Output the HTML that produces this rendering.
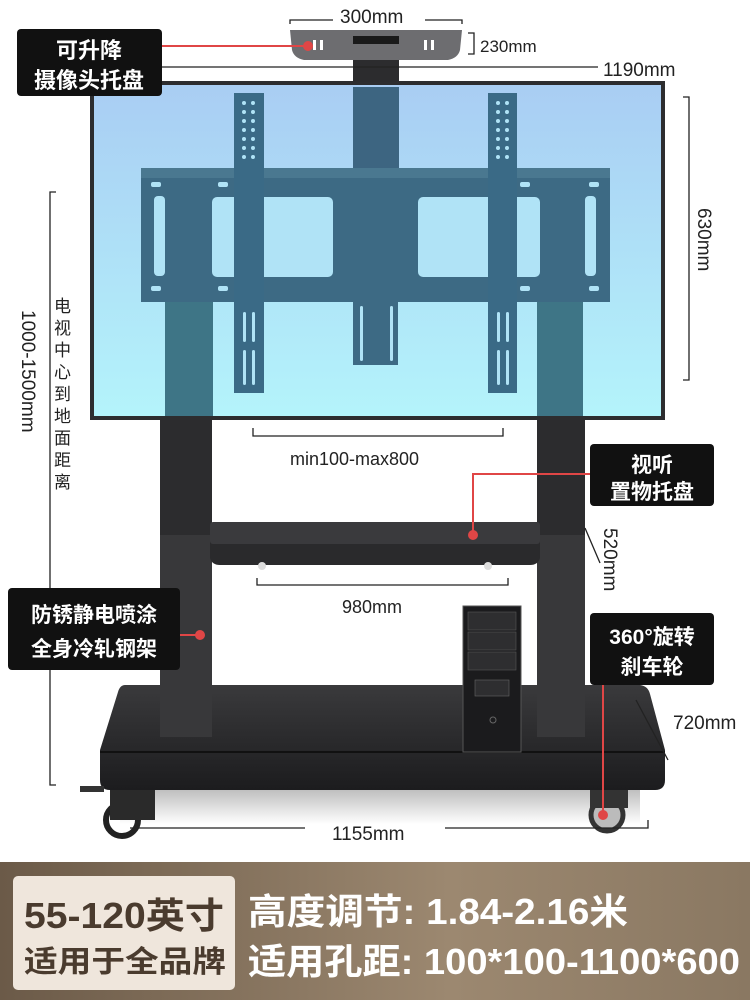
<!DOCTYPE html>
<html><head><meta charset="utf-8"><style>
html,body{margin:0;padding:0;background:#fff}
svg{display:block}
text{font-family:"Liberation Sans","Noto Sans CJK SC",sans-serif}
</style></head><body>
<svg width="750" height="1000" viewBox="0 0 750 1000" xmlns="http://www.w3.org/2000/svg">
<defs>
<linearGradient id="scr" x1="0" y1="0" x2="0" y2="1"><stop offset="0" stop-color="#a9cdf3"/><stop offset="1" stop-color="#b4f4fb"/></linearGradient>
<linearGradient id="ban" x1="0" y1="0" x2="1" y2="0"><stop offset="0" stop-color="#6b5a48"/><stop offset="0.6" stop-color="#9c8870"/><stop offset="1" stop-color="#8a7862"/></linearGradient>
<linearGradient id="base" x1="0" y1="0" x2="0" y2="1"><stop offset="0" stop-color="#3a3a3c"/><stop offset="1" stop-color="#1c1c1e"/></linearGradient>
<linearGradient id="shd" x1="0" y1="0" x2="0" y2="1"><stop offset="0" stop-color="#bbb"/><stop offset="1" stop-color="#fff"/></linearGradient>
</defs>
<rect width="750" height="1000" fill="#fff"/>
<rect x="160" y="420" width="52" height="318" fill="#2c2c2e"/>
<rect x="537" y="420" width="48" height="318" fill="#2c2c2e"/>
<rect x="160" y="535" width="52" height="200" fill="#38383a"/>
<rect x="537" y="535" width="48" height="200" fill="#38383a"/>
<path d="M210 525 L540 525 L540 558 Q538 565 530 565 L220 565 Q212 565 210 558 Z" fill="#2a2a2c"/>
<rect x="210" y="522" width="330" height="22" rx="3" fill="#3a3a3d"/>
<circle cx="262" cy="566" r="4" fill="#ddd"/><circle cx="488" cy="566" r="4" fill="#ddd"/>
<rect x="120" y="788" width="520" height="36" fill="url(#shd)"/>
<path d="M125 685 L640 685 Q648 686 650 694 L665 750 L665 780 Q665 790 655 790 L110 790 Q100 790 100 780 L100 750 L118 692 Q120 685 125 685 Z" fill="url(#base)"/>
<path d="M100 752 L665 752" stroke="#111" stroke-width="2"/>
<rect x="160" y="685" width="52" height="52" fill="#38383a"/>
<rect x="537" y="685" width="48" height="52" fill="#38383a"/>
<rect x="463" y="606" width="58" height="146" fill="#1b1b1d" stroke="#555" stroke-width="1"/>
<rect x="468" y="612" width="48" height="18" fill="#2e2e30" stroke="#555" stroke-width="0.6"/>
<rect x="468" y="632" width="48" height="18" fill="#2e2e30" stroke="#555" stroke-width="0.6"/>
<rect x="468" y="652" width="48" height="18" fill="#2e2e30" stroke="#555" stroke-width="0.6"/>
<rect x="475" y="680" width="34" height="16" fill="#2e2e30" stroke="#666" stroke-width="0.6"/>
<circle cx="493" cy="720" r="3" fill="none" stroke="#666"/>
<rect x="80" y="786" width="24" height="6" fill="#333"/>
<circle cx="122" cy="820" r="16" fill="none" stroke="#222" stroke-width="6"/>
<rect x="110" y="790" width="45" height="30" fill="#2a2a2a"/>
<circle cx="607" cy="815" r="16" fill="#bbb" stroke="#333" stroke-width="5"/>
<rect x="590" y="790" width="38" height="18" fill="#333"/>
<rect x="92" y="83" width="571" height="335" fill="url(#scr)" stroke="#2d2d2f" stroke-width="4"/>
<rect x="353" y="87" width="46" height="110" fill="#3d6581"/>
<rect x="165" y="302" width="48" height="114" fill="#3e7586"/>
<rect x="537" y="302" width="46" height="114" fill="#3e7586"/>
<rect x="141" y="168" width="469" height="134" fill="#3d6a84"/>
<rect x="141" y="168" width="469" height="10" fill="#4a7890"/>
<rect x="212" y="197" width="121" height="80" rx="5" fill="#b0e3f6"/>
<rect x="418" y="197" width="122" height="80" rx="5" fill="#b0e3f6"/>
<rect x="154" y="196" width="11" height="80" rx="4" fill="#b0e3f6"/>
<rect x="585" y="196" width="11" height="80" rx="4" fill="#b0e3f6"/>
<rect x="353" y="302" width="45" height="63" fill="#3d6a84"/>
<rect x="234" y="93" width="30" height="300" fill="#3a6a86"/>
<rect x="488" y="93" width="29" height="300" fill="#3a6a86"/>
<g fill="#b0e3f6">
<circle cx="244" cy="103" r="2"/><circle cx="253" cy="103" r="2"/><circle cx="244" cy="112" r="2"/><circle cx="253" cy="112" r="2"/><circle cx="244" cy="121" r="2"/><circle cx="253" cy="121" r="2"/><circle cx="244" cy="130" r="2"/><circle cx="253" cy="130" r="2"/><circle cx="244" cy="139" r="2"/><circle cx="253" cy="139" r="2"/><circle cx="244" cy="148" r="2"/><circle cx="253" cy="148" r="2"/><circle cx="244" cy="157" r="2"/><circle cx="253" cy="157" r="2"/>
<circle cx="498" cy="103" r="2"/><circle cx="507" cy="103" r="2"/><circle cx="498" cy="112" r="2"/><circle cx="507" cy="112" r="2"/><circle cx="498" cy="121" r="2"/><circle cx="507" cy="121" r="2"/><circle cx="498" cy="130" r="2"/><circle cx="507" cy="130" r="2"/><circle cx="498" cy="139" r="2"/><circle cx="507" cy="139" r="2"/><circle cx="498" cy="148" r="2"/><circle cx="507" cy="148" r="2"/><circle cx="498" cy="157" r="2"/><circle cx="507" cy="157" r="2"/>
<rect x="243" y="312" width="3" height="30" rx="1.5"/><rect x="252" y="312" width="3" height="30" rx="1.5"/><rect x="243" y="350" width="3" height="35" rx="1.5"/><rect x="252" y="350" width="3" height="35" rx="1.5"/>
<rect x="497" y="312" width="3" height="30" rx="1.5"/><rect x="506" y="312" width="3" height="30" rx="1.5"/><rect x="497" y="350" width="3" height="35" rx="1.5"/><rect x="506" y="350" width="3" height="35" rx="1.5"/>
<rect x="360" y="306" width="3" height="55" rx="1.5"/><rect x="390" y="306" width="3" height="55" rx="1.5"/>
<rect x="151" y="182" width="10" height="5" rx="2"/><rect x="218" y="182" width="10" height="5" rx="2"/><rect x="589" y="182" width="10" height="5" rx="2"/><rect x="520" y="182" width="10" height="5" rx="2"/>
<rect x="151" y="286" width="10" height="5" rx="2"/><rect x="218" y="286" width="10" height="5" rx="2"/><rect x="589" y="286" width="10" height="5" rx="2"/><rect x="520" y="286" width="10" height="5" rx="2"/>
</g>
<rect x="353" y="38" width="46" height="44" fill="#2c2c2e"/>
<path d="M290 30 L462 30 L460 50 Q458 58 448 60 L304 60 Q294 58 292 50 Z" fill="#6d6d70"/>
<rect x="353" y="36" width="46" height="8" fill="#1a1a1a"/>
<g fill="#fff"><rect x="313" y="40" width="3" height="10"/><rect x="320" y="40" width="3" height="10"/><rect x="424" y="40" width="3" height="10"/><rect x="431" y="40" width="3" height="10"/></g>
<g stroke="#222" stroke-width="1.3" fill="none">
<path d="M290 24 V20 H333 M425 20 H462 V24"/>
<path d="M468 33 H474 V54 H468"/>
<path d="M162 67 H598"/>
<path d="M683 97 H689 V380 H683"/>
<path d="M56 192 H50 V785 H56"/>
<path d="M253 428 V436 H503 V428"/>
<path d="M257 578 V585 H508 V578"/>
<path d="M585 528 L600 563"/>
<path d="M636 700 L668 760"/>
<path d="M130 828 H305 M445 828 H648 V820"/>
</g>
<g font-size="19" fill="#222">
<text x="340" y="23">300mm</text>
<text x="480" y="52" font-size="17">230mm</text>
<text x="603" y="76">1190mm</text>
<text x="290" y="465" font-size="18">min100-max800</text>
<text x="342" y="613" font-size="18">980mm</text>
<text x="673" y="729">720mm</text>
<text x="332" y="840">1155mm</text>
<text transform="translate(698,208) rotate(90)">630mm</text>
<text transform="translate(604,528) rotate(90)">520mm</text>
<text transform="translate(22,310) rotate(90)">1000-1500mm</text>
</g>
<g font-size="17" fill="#222">
<text x="54" y="312">电</text><text x="54" y="334">视</text><text x="54" y="356">中</text><text x="54" y="378">心</text><text x="54" y="400">到</text><text x="54" y="422">地</text><text x="54" y="444">面</text><text x="54" y="466">距</text><text x="54" y="488">离</text>
</g>
<g stroke="#e04646" stroke-width="2" fill="#e04646">
<line x1="162" y1="46" x2="308" y2="46"/><circle cx="308" cy="46" r="4"/>
<path d="M590 474 H473 V535" fill="none"/><circle cx="473" cy="535" r="4"/>
<line x1="180" y1="635" x2="200" y2="635"/><circle cx="200" cy="635" r="4"/>
<line x1="603" y1="685" x2="603" y2="815"/><circle cx="603" cy="815" r="4"/>
</g>
<g fill="#111">
<rect x="17" y="29" width="145" height="67" rx="4"/>
<rect x="590" y="444" width="124" height="62" rx="4"/>
<rect x="8" y="588" width="172" height="82" rx="4"/>
<rect x="590" y="613" width="124" height="72" rx="4"/>
</g>
<g fill="#fff" font-weight="bold" text-anchor="middle">
<text x="89" y="58" font-size="22">可升降</text>
<text x="89" y="88" font-size="22">摄像头托盘</text>
<text x="652" y="472" font-size="21">视听</text>
<text x="652" y="499" font-size="21">置物托盘</text>
<text x="94" y="622" font-size="21">防锈静电喷涂</text>
<text x="94" y="656" font-size="21">全身冷轧钢架</text>
<text x="652" y="644" font-size="21">360°旋转</text>
<text x="652" y="674" font-size="21">刹车轮</text>
</g>
<rect x="0" y="862" width="750" height="138" fill="url(#ban)"/>
<rect x="13" y="876" width="222" height="114" rx="5" fill="#efe6dc"/>
<g font-weight="bold">
<text x="24" y="928" font-size="36" fill="#4a3b2e" textLength="200" lengthAdjust="spacingAndGlyphs">55-120英寸</text>
<text x="24" y="972" font-size="30" fill="#4a3b2e" textLength="202" lengthAdjust="spacingAndGlyphs">适用于全品牌</text>
<text x="248" y="924" font-size="36" fill="#fff" textLength="380" lengthAdjust="spacingAndGlyphs">高度调节: 1.84-2.16米</text>
<text x="248" y="974" font-size="36" fill="#fff" textLength="492" lengthAdjust="spacingAndGlyphs">适用孔距: 100*100-1100*600</text>
</g>
</svg>
</body></html>
